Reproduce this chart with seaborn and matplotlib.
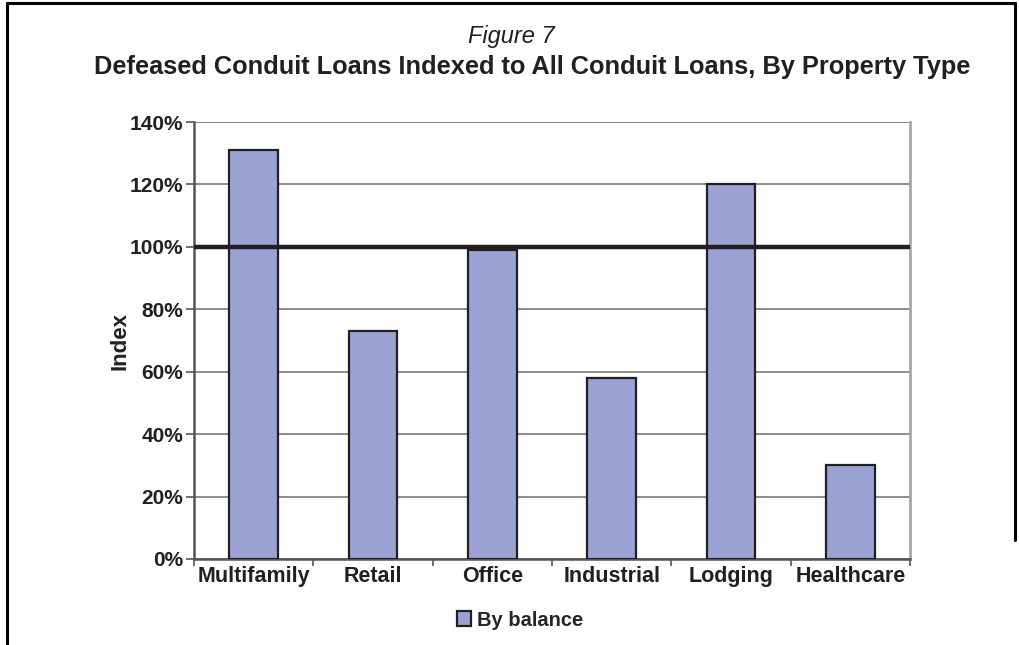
import matplotlib
matplotlib.use("Agg")
import matplotlib.pyplot as plt
from matplotlib.lines import Line2D
from matplotlib.patches import Patch
from matplotlib.ticker import FixedLocator, FuncFormatter
import seaborn as sns
import pandas as pd

# Index of defeased conduit loans relative to all conduit loans (percent)
property_types = ["Multifamily", "Retail", "Office", "Industrial", "Lodging", "Healthcare"]
by_balance = [131, 73, 99, 58, 120, 30]
y_ticks = [0, 20, 40, 60, 80, 100, 120, 140]
series_name = "By balance"

sns.set_theme(style="white")
plt.rcParams["font.family"] = ["Liberation Sans", "DejaVu Sans"]

df = pd.DataFrame({"type": property_types, "index": by_balance})

fig = plt.figure(figsize=(10.19, 6.45), dpi=100)
ax = fig.add_axes([194 / 1019, 1 - 559 / 645, (910 - 194) / 1019, (559 - 122) / 645])

bar_color = "#9BA3D4"
ink = "#231F20"

sns.barplot(data=df, x="type", y="index", color=bar_color, width=0.41,
            edgecolor=ink, linewidth=1.6, saturation=1, ax=ax, zorder=3)

ax.set_ylim(0, 140)
ax.set_xlim(-0.5, len(property_types) - 0.5)
ax.yaxis.set_major_locator(FixedLocator(y_ticks))
ax.yaxis.set_major_formatter(FuncFormatter(lambda v, p: f"{v:.0f}%"))
ax.grid(axis="y", color="#6E6E6E", linewidth=1.1, zorder=0)
ax.set_axisbelow(True)

# 100% reference line
ax.axhline(100, color=ink, linewidth=3.2, zorder=4)

for s in ["left", "bottom"]:
    ax.spines[s].set_color("#555555")
    ax.spines[s].set_linewidth(1.8)
ax.spines["right"].set_color("#A3A7AC")
ax.spines["right"].set_linewidth(2)
ax.spines["top"].set_visible(False)

ax.tick_params(axis="y", which="major", direction="out", length=6, width=1.2,
               color="#555555", left=True, labelsize=15, pad=2, labelcolor=ink)
ax.tick_params(axis="x", which="major", length=0, labelsize=15.5, pad=5, labelcolor=ink)
ax.xaxis.set_minor_locator(FixedLocator([i - 0.5 for i in range(len(property_types) + 1)]))
ax.tick_params(axis="x", which="minor", direction="out", length=5, width=1.2,
               color="#555555", bottom=True)
for lbl in ax.get_xticklabels() + ax.get_yticklabels():
    lbl.set_fontweight("bold")

ax.set_xlabel("")
ax.set_ylabel("Index", fontsize=16, fontweight="bold", color=ink, labelpad=-1)

handle = Patch(facecolor=bar_color, edgecolor=ink, linewidth=1.6)
fig.legend([handle], [series_name], loc="center", bbox_to_anchor=(520 / 1019, 1 - 620 / 645),
           frameon=False, prop={"weight": "bold", "size": 14.5}, handlelength=0.7,
           handleheight=0.7, handletextpad=0.3)

fig.text(511 / 1019, 1 - 37 / 645, "Figure 7", ha="center", va="center",
         fontsize=17, style="italic", color=ink)
fig.text(532 / 1019, 1 - 67 / 645,
         "Defeased Conduit Loans Indexed to All Conduit Loans, By Property Type",
         ha="center", va="center", fontsize=18.3, fontweight="bold", color=ink)

# page frame
fig.add_artist(Line2D([7 / 1019, 7 / 1019], [0, 1 - 3 / 645], color="black", linewidth=2.2,
                      transform=fig.transFigure))
fig.add_artist(Line2D([7 / 1019, 1015 / 1019], [1 - 3 / 645, 1 - 3 / 645], color="black",
                      linewidth=2.2, transform=fig.transFigure))
fig.add_artist(Line2D([1015 / 1019, 1015 / 1019], [1 - 3 / 645, 1 - 540 / 645], color="black",
                      linewidth=2.2, transform=fig.transFigure))

fig.savefig("out.png", dpi=100)
